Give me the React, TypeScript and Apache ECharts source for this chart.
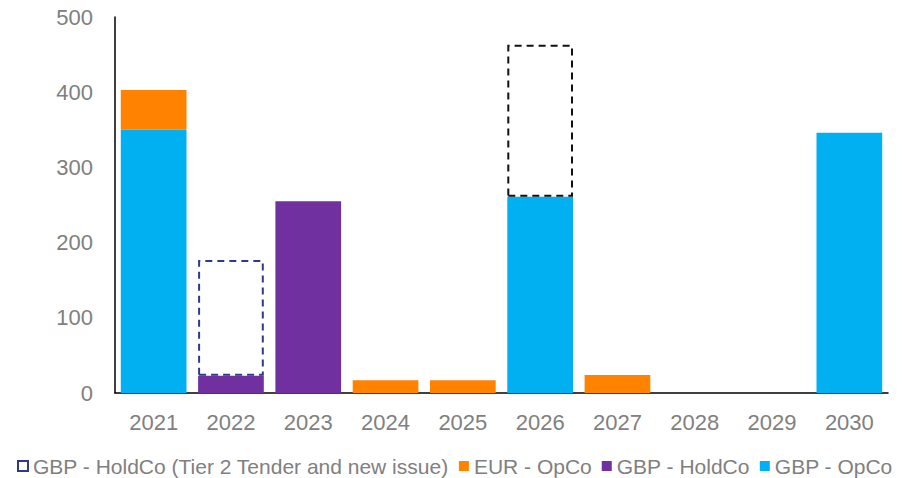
import React, { useEffect, useRef } from "react";
import * as echarts from "echarts";

const years = ["2021", "2022", "2023", "2024", "2025", "2026", "2027", "2028", "2029", "2030"];
const gbpOpCo = [350, 0, 0, 0, 0, 261, 0, 0, 0, 346];
const gbpHoldCo = [0, 23, 255, 0, 0, 0, 0, 0, 0, 0];
const eurOpCo = [53, 0, 0, 17, 17, 0, 24, 0, 0, 0];
const tenderNew = [0, 154, 0, 0, 0, 202, 0, 0, 0, 0];
const tenderBorder = ["", "#2E3A8C", "", "", "", "#111111", "", "", "", ""];
const seriesNames = [
  "GBP - HoldCo (Tier 2 Tender and new issue)",
  "EUR - OpCo",
  "GBP - HoldCo",
  "GBP - OpCo",
];
const yTicks = { min: 0, max: 500, interval: 100 };

const FONT = "'Liberation Sans', Arial, sans-serif";
const GREY = "#808080";

export default function App() {
  const ref = useRef<HTMLDivElement>(null);
  useEffect(() => {
    if (!ref.current) return;
    const chart = echarts.init(ref.current, null, { renderer: "svg" });
    const toData = (arr: number[]) => arr.map((v) => (v === 0 ? "-" : v));
    chart.setOption({
      animation: false,
      textStyle: { fontFamily: FONT },
      grid: { left: 115, right: 22, top: 17, bottom: 85, containLabel: false },
      legend: {
        data: seriesNames,
        left: 17,
        top: 454,
        width: 893,
        padding: 0,
        itemWidth: 10,
        itemHeight: 10,
        itemGap: 10,
        icon: "rect",
        textStyle: { color: GREY, fontSize: 21, fontFamily: FONT, lineHeight: 24 },
      },
      xAxis: {
        type: "category",
        data: years,
        axisLine: { lineStyle: { color: "#000", width: 1.5 } },
        axisTick: { show: false },
        axisLabel: { color: GREY, fontSize: 22, margin: 18, fontFamily: FONT },
      },
      yAxis: {
        type: "value",
        min: yTicks.min,
        max: yTicks.max,
        interval: yTicks.interval,
        axisLine: { show: true, lineStyle: { color: "#000", width: 1.5 } },
        axisTick: { show: false },
        splitLine: { show: false },
        axisLabel: { color: GREY, fontSize: 22, margin: 22, fontFamily: FONT },
      },
      series: [
        {
          name: seriesNames[3],
          type: "bar",
          stack: "s",
          barCategoryGap: "15%",
          data: toData(gbpOpCo),
          itemStyle: { color: "#00B0F0" },
        },
        {
          name: seriesNames[2],
          type: "bar",
          stack: "s",
          data: toData(gbpHoldCo),
          itemStyle: { color: "#7030A0" },
        },
        {
          name: seriesNames[1],
          type: "bar",
          stack: "s",
          data: toData(eurOpCo),
          itemStyle: { color: "#FF8200" },
        },
        {
          name: seriesNames[0],
          type: "bar",
          stack: "s",
          data: tenderNew.map((v, i) =>
            v === 0
              ? "-"
              : { value: v, itemStyle: { borderColor: tenderBorder[i] } }
          ),
          itemStyle: {
            color: "rgba(255,255,255,0)",
            borderColor: "#2E3A8C",
            borderWidth: 2,
            borderType: [7, 5],
          },
        },
      ],
    });
    return () => chart.dispose();
  }, []);
  return <div ref={ref} style={{ width: 910, height: 478, position: "absolute", left: 0, top: 0 }} />;
}
